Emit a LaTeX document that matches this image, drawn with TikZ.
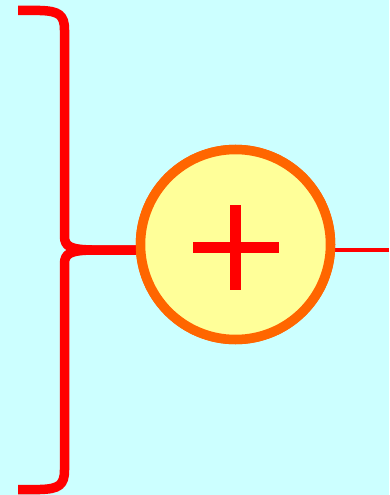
\documentclass[tikz,border=0pt]{standalone}
\definecolor{bgc}{RGB}{204,255,255}
\definecolor{fillc}{RGB}{255,255,153}
\definecolor{ringc}{RGB}{255,102,0}
\definecolor{redc}{RGB}{255,0,0}
\tikzset{
  bracestroke/.style={draw=redc, line width=9.5pt, line cap=butt, line join=round},
  sumnode/.style={circle, draw=ringc, fill=fillc, line width=9.5pt, minimum size=190pt, inner sep=0pt},
  plusbar/.style={draw=redc, line width=11pt, line cap=butt},
  outline/.style={draw=redc, line width=4pt}
}
\begin{document}
\begin{tikzpicture}[x=1pt, y=-1pt]
\useasboundingbox (0,0) rectangle (389,495);
\fill[bgc] (0,0) rectangle (389,495);
\coordinate (out) at (389,250);
\node[sumnode] (sum) at (235.5,244.5) {};
\coordinate (tip) at (64.5,250);
% brace upper half
\draw[bracestroke] (18,10.5) -- (40,10.5) .. controls (59,11) and (64.5,15) .. (64.5,30)
  -- (64.5,236) .. controls (64.5,246.5) and (70,249.5) .. (92,250) -- (sum.west |- tip);
% brace lower half
\draw[bracestroke] (18,489.5) -- (40,489.5) .. controls (59,489) and (64.5,485) .. (64.5,470)
  -- (64.5,264) .. controls (64.5,253.5) and (70,250.5) .. (92,250) -- (sum.west |- tip);
\draw[outline] (out) -- (sum.east |- out);
\node[sumnode] at (sum) {};
% plus sign
\draw[plusbar] (235.5,205) -- (235.5,290);
\draw[plusbar] (193,247.5) -- (279,247.5);
\end{tikzpicture}
\end{document}
